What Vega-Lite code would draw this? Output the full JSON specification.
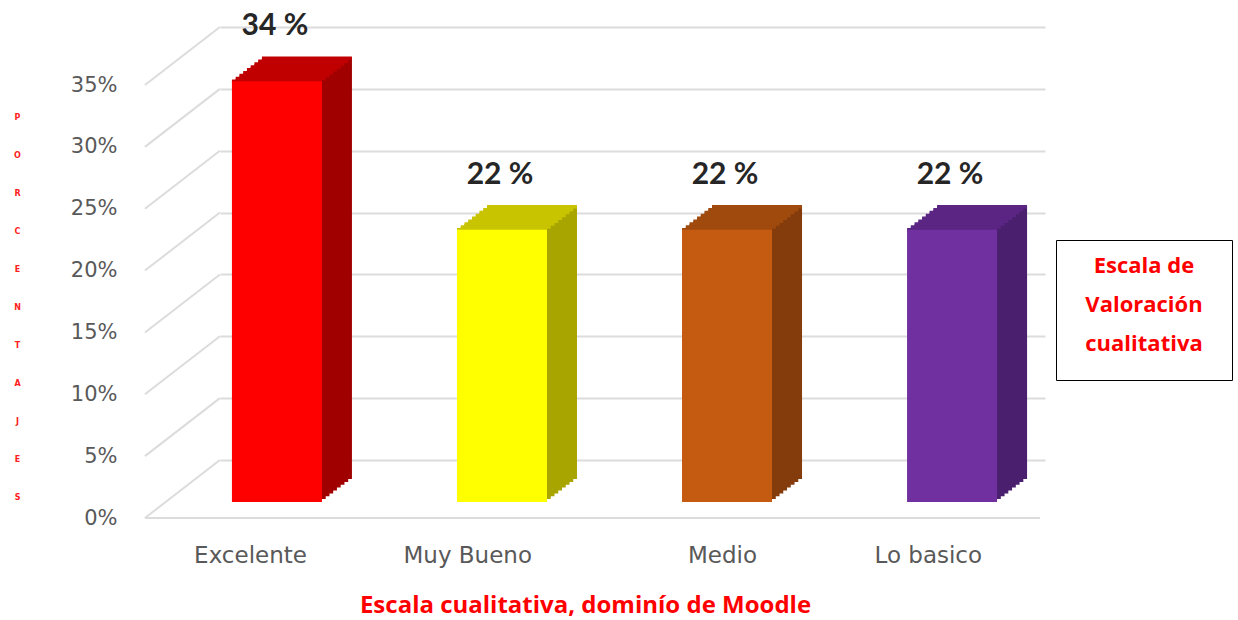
{
  "$schema": "https://vega.github.io/schema/vega-lite/v6.json",
  "width": 825,
  "height": 433,
  "autosize": {"type": "none"},
  "padding": {"left": 220, "top": 27, "right": 193, "bottom": 160},
  "background": "white",
  "config": {
    "view": {"stroke": null},
    "font": "Lato"
  },
  "datasets": {
    "main": [
      {"cat": "Excelente", "valor": 34, "etiqueta": "34 %"},
      {"cat": "Muy Bueno", "valor": 22, "etiqueta": "22 %"},
      {"cat": "Medio", "valor": 22, "etiqueta": "22 %"},
      {"cat": "Lo basico", "valor": 22, "etiqueta": "22 %"}
    ],
    "ticks": [{"t": 0}, {"t": 5}, {"t": 10}, {"t": 15}, {"t": 20}, {"t": 25}, {"t": 30}, {"t": 35}]
  },
  "resolve": {"scale": {"color": "independent"}},
  "layer": [
    {
      "data": {"name": "ticks"},
      "mark": {"type": "rule", "color": "#dcdcdc", "strokeWidth": 2, "xOffset": -105, "x2Offset": -30, "yOffset": 58, "y2Offset": 0},
      "encoding": {
        "x": {"datum": "Excelente", "bandPosition": 0, "type": "nominal"},
        "x2": {"datum": "Excelente", "bandPosition": 0},
        "y": {"field": "t", "type": "quantitative"},
        "y2": {"field": "t"}
      }
    },
    {
      "data": {"values": [{"t": 0}]},
      "mark": {"type": "rule", "color": "#dcdcdc", "strokeWidth": 2, "xOffset": -105, "x2Offset": 25, "yOffset": 58},
      "encoding": {
        "x": {"datum": "Excelente", "bandPosition": 0, "type": "nominal"},
        "x2": {"datum": "Lo basico", "bandPosition": 1},
        "y": {"field": "t", "type": "quantitative"}
      }
    },
    {
      "data": {"name": "main"},
      "encoding": {
        "x": {"field": "cat", "type": "nominal", "sort": null},
        "y": {"field": "valor", "type": "quantitative"},
        "color": {"field": "cat", "type": "nominal", "legend": null,
          "scale": {"domain": ["Excelente", "Muy Bueno", "Medio", "Lo basico"], "range": ["#a00000", "#a8a400", "#843c0c", "#4a1f6e"]}}
      },
      "layer": [
        {"mark": {"type": "bar", "xOffset": -14.25, "yOffset": 39.1}},
        {"mark": {"type": "bar", "xOffset": -10.5, "yOffset": 36.25}},
        {"mark": {"type": "bar", "xOffset": -6.75, "yOffset": 33.4}},
        {"mark": {"type": "bar", "xOffset": -3, "yOffset": 30.5}},
        {"mark": {"type": "bar", "xOffset": 0.75, "yOffset": 27.6}},
        {"mark": {"type": "bar", "xOffset": 4.5, "yOffset": 24.75}},
        {"mark": {"type": "bar", "xOffset": 8.25, "yOffset": 21.9}},
        {"mark": {"type": "bar", "xOffset": 12, "yOffset": 19}}
      ]
    },
    {
      "data": {"name": "main"},
      "encoding": {
        "x": {"field": "cat", "type": "nominal", "sort": null},
        "y": {"field": "valor", "type": "quantitative"},
        "color": {"field": "cat", "type": "nominal", "legend": null,
          "scale": {"domain": ["Excelente", "Muy Bueno", "Medio", "Lo basico"], "range": ["#c00000", "#c8c400", "#a04a0e", "#5b2584"]}}
      },
      "layer": [
        {"mark": {"type": "tick", "size": 90, "thickness": 3.5, "opacity": 1, "xOffset": -18, "yOffset": 42}},
        {"mark": {"type": "tick", "size": 90, "thickness": 3.5, "opacity": 1, "xOffset": -14.25, "yOffset": 39.1}},
        {"mark": {"type": "tick", "size": 90, "thickness": 3.5, "opacity": 1, "xOffset": -10.5, "yOffset": 36.25}},
        {"mark": {"type": "tick", "size": 90, "thickness": 3.5, "opacity": 1, "xOffset": -6.75, "yOffset": 33.4}},
        {"mark": {"type": "tick", "size": 90, "thickness": 3.5, "opacity": 1, "xOffset": -3, "yOffset": 30.5}},
        {"mark": {"type": "tick", "size": 90, "thickness": 3.5, "opacity": 1, "xOffset": 0.75, "yOffset": 27.6}},
        {"mark": {"type": "tick", "size": 90, "thickness": 3.5, "opacity": 1, "xOffset": 4.5, "yOffset": 24.75}},
        {"mark": {"type": "tick", "size": 90, "thickness": 3.5, "opacity": 1, "xOffset": 8.25, "yOffset": 21.9}},
        {"mark": {"type": "tick", "size": 90, "thickness": 3.5, "opacity": 1, "xOffset": 12, "yOffset": 19}}
      ]
    },
    {
      "data": {"name": "main"},
      "mark": {"type": "bar", "xOffset": -18, "yOffset": 42},
      "encoding": {
        "x": {"field": "cat", "type": "nominal", "sort": null,
          "scale": {"domain": ["Excelente", "Muy Bueno", "Medio", "Lo basico"], "paddingInner": 0.6, "paddingOuter": 0.133},
          "axis": {"title": "Escala cualitativa, dominío de Moodle", "domain": false, "ticks": false, "labelAngle": 0,
            "labelFont": "DejaVu Sans", "labelFontSize": 23, "labelColor": "#595959", "labelPadding": 84, "labelBaseline": "top", "labelOffset": 12,
            "titleFont": "Open Sans", "titleFontSize": 24, "titleFontWeight": "bold", "titleColor": "#ff0000",
            "titleX": 365, "titleY": 145, "titleAlign": "center", "titleBaseline": "middle"}},
        "y": {"field": "valor", "type": "quantitative",
          "scale": {"domain": [0, 35], "nice": false},
          "axis": {"values": [0, 5, 10, 15, 20, 25, 30, 35], "labelExpr": "datum.value + '%'", "domain": false, "ticks": false,
            "grid": true, "gridColor": "#dcdcdc", "gridWidth": 2,
            "offset": 95, "labelPadding": 8, "labelOffset": 58,
            "labelFont": "DejaVu Sans", "labelFontSize": 21, "labelColor": "#595959",
            "title": ["P", "O", "R", "C", "E", "N", "T", "A", "J", "E", "S"],
            "titleAngle": 0, "titleFont": "DejaVu Sans", "titleFontSize": 8, "titleFontWeight": "bold", "titleColor": "#ff2020",
            "titleLineHeight": 38, "titleX": -108, "titleY": 86, "titleAlign": "center", "titleBaseline": "top"}},
        "color": {"field": "cat", "type": "nominal", "legend": null,
          "scale": {"domain": ["Excelente", "Muy Bueno", "Medio", "Lo basico"], "range": ["#ff0000", "#ffff00", "#c55a11", "#7030a0"]}}
      }
    },
    {
      "data": {"name": "main"},
      "mark": {"type": "text", "xOffset": -20, "yOffset": -13, "baseline": "middle", "align": "center",
        "font": "Lato", "fontWeight": "bold", "fontSize": 30, "color": "#262626"},
      "encoding": {
        "x": {"field": "cat", "type": "nominal", "sort": null},
        "y": {"field": "valor", "type": "quantitative"},
        "text": {"field": "etiqueta"}
      }
    },
    {
      "data": {"name": "main"},
      "mark": {"type": "point", "opacity": 0},
      "encoding": {
        "shape": {"datum": "x", "type": "nominal",
          "legend": {"title": ["Escala de", "Valoración", "cualitativa"], "orient": "none", "legendX": 836, "legendY": 213,
            "titleColor": "#ff0000", "titleFont": "Open Sans", "titleFontWeight": "bold", "titleFontSize": 22, "titleLineHeight": 39,
            "titleAlign": "center", "titleAnchor": "middle", "titlePadding": 0,
            "strokeColor": "#000000", "fillColor": "white", "padding": 16,
            "labelExpr": "'.'", "labelColor": "white", "labelFontSize": 8, "labelOffset": 134,
            "symbolOpacity": 0, "symbolStrokeWidth": 0, "symbolSize": 0}}
      }
    }
  ]
}
